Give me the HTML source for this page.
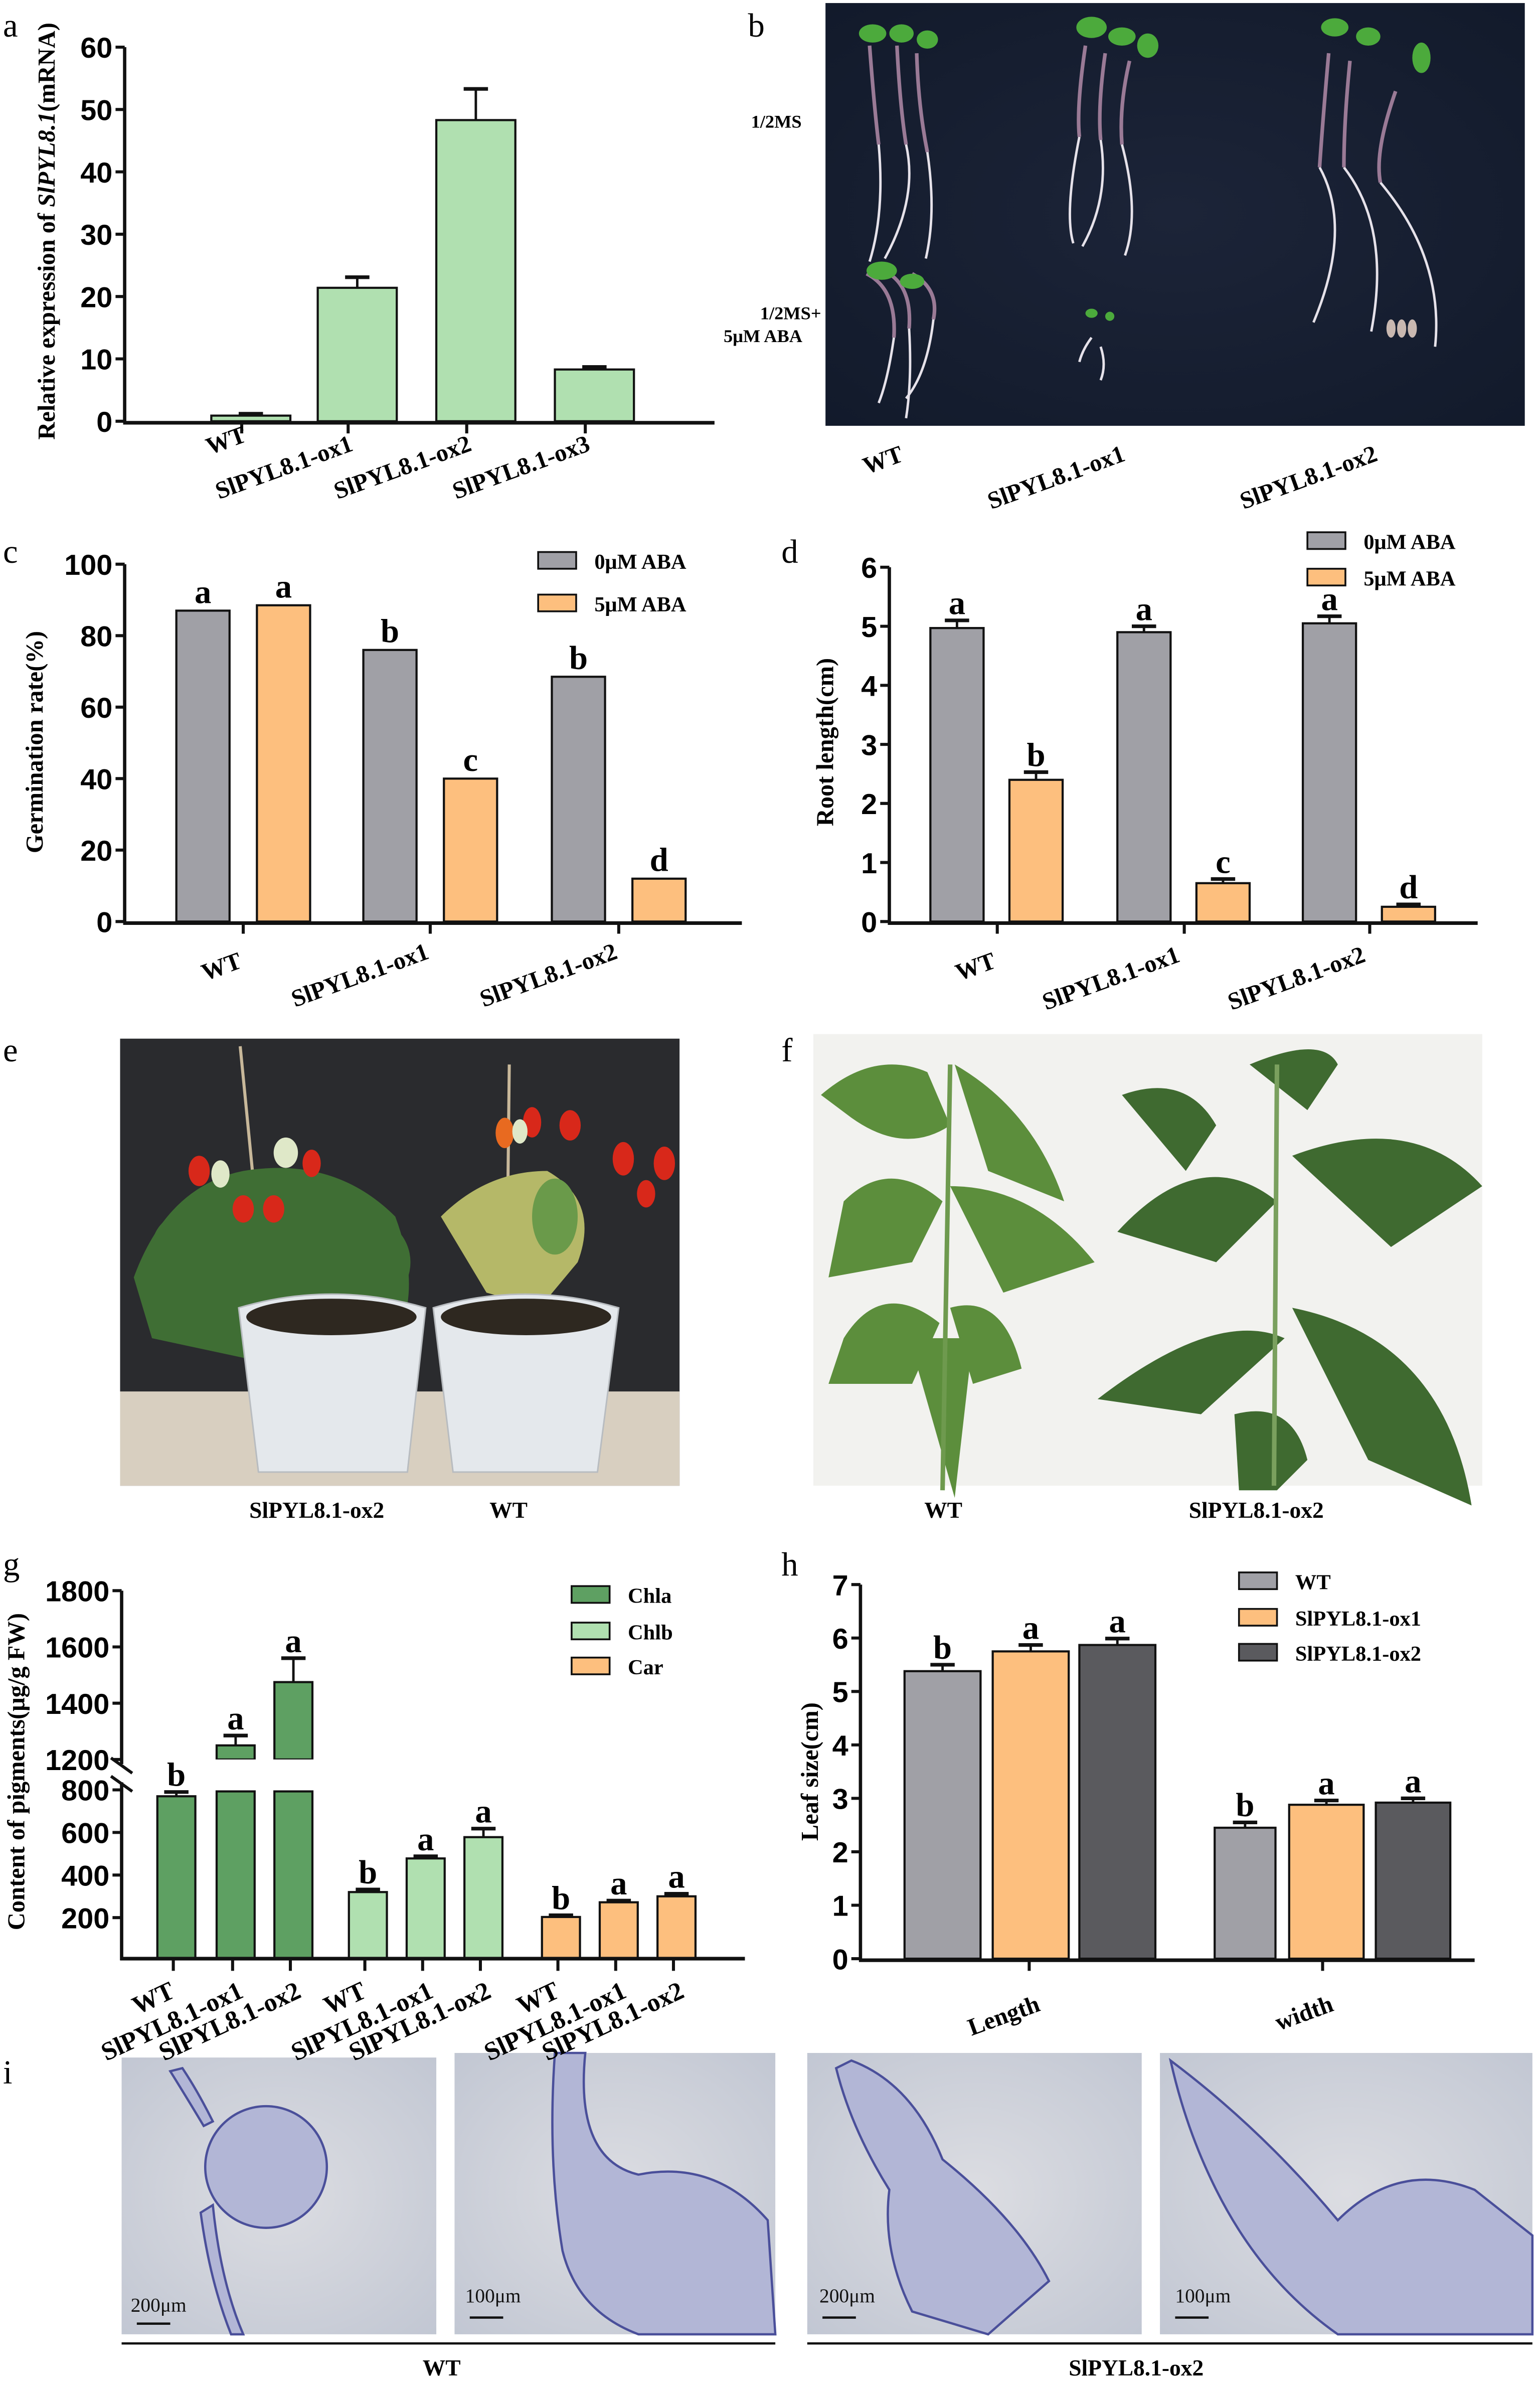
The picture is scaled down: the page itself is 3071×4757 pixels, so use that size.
<!DOCTYPE html>
<html><head><meta charset="utf-8"><style>
html,body{margin:0;padding:0;background:#fff;width:3071px;height:4757px;overflow:hidden}
svg{display:block}
.tk{font-family:"Liberation Sans Narrow","Liberation Sans",sans-serif;font-weight:bold;font-size:19px}
.sr{font-family:"Liberation Serif",serif;font-weight:bold}
.pl{font-family:"Liberation Serif",serif;font-size:22px}
</style></head><body>
<svg id="fig" width="3071" height="4757" viewBox="0 0 1013 1569" preserveAspectRatio="none" xmlns="http://www.w3.org/2000/svg">
<defs>
<radialGradient id="gb" cx="0.5" cy="0.5" r="0.7"><stop offset="0" stop-color="#1c2438"/><stop offset="1" stop-color="#121a2b"/></radialGradient>
<radialGradient id="gi" cx="0.5" cy="0.5" r="0.7"><stop offset="0" stop-color="#dcdde2"/><stop offset="1" stop-color="#c2c7d3"/></radialGradient>
</defs>

<g class="pl">
<text x="2" y="24">a</text>
<text x="492" y="24">b</text>
<text x="2" y="370">c</text>
<text x="514" y="370">d</text>
<text x="2" y="698">e</text>
<text x="514" y="698">f</text>
<text x="2" y="1036">g</text>
<text x="514" y="1036">h</text>
<text x="2" y="1370">i</text>
</g>

<!-- panel b photo -->
<g>
<rect x="543" y="2" width="460" height="278" fill="url(#gb)"/>
<g fill="none" stroke="#e6e2ea" stroke-width="1.6">
<path d="M578 95 Q582 140 572 172 M596 95 Q604 130 582 170 M610 100 Q616 140 609 170"/>
<path d="M710 90 Q700 140 706 160 M724 92 Q730 130 712 162 M738 95 Q750 140 740 168"/>
<path d="M868 110 Q890 150 864 212 M884 110 Q915 150 902 218 M908 120 Q950 170 944 228"/>
<path d="M588 222 Q584 250 578 265 M598 216 Q600 250 596 275 M614 210 Q610 245 596 262"/>
<path d="M718 222 Q712 230 710 238 M724 228 Q728 240 724 250"/>
</g>
<g fill="none" stroke="#9a7a96" stroke-width="2.4">
<path d="M572 30 Q575 70 578 95 M590 30 Q592 70 596 95 M603 35 Q604 70 610 100"/>
<path d="M714 30 Q708 70 710 90 M727 35 Q722 70 724 92 M743 40 Q736 70 738 95"/>
<path d="M874 35 Q870 80 868 110 M888 40 Q884 80 884 110 M918 60 Q904 100 908 120"/>
<path d="M570 180 Q590 190 588 222 M585 180 Q600 190 598 216 M600 180 Q618 190 614 210"/>
</g>
<g fill="#4caa3c">
<ellipse cx="574" cy="22" rx="9" ry="6"/><ellipse cx="593" cy="22" rx="8" ry="6"/><ellipse cx="610" cy="26" rx="7" ry="6"/>
<ellipse cx="718" cy="18" rx="10" ry="7"/><ellipse cx="738" cy="24" rx="9" ry="6"/><ellipse cx="755" cy="30" rx="7" ry="8"/>
<ellipse cx="878" cy="18" rx="9" ry="6"/><ellipse cx="900" cy="24" rx="8" ry="6"/><ellipse cx="935" cy="38" rx="6" ry="10"/>
<ellipse cx="580" cy="178" rx="10" ry="6"/><ellipse cx="600" cy="185" rx="8" ry="5"/>
<ellipse cx="718" cy="206" rx="4" ry="3"/><ellipse cx="730" cy="208" rx="3" ry="3"/>
</g>
<g fill="#c9b8b0"><ellipse cx="915" cy="216" rx="3" ry="6"/><ellipse cx="922" cy="216" rx="3" ry="6"/><ellipse cx="929" cy="216" rx="3" ry="6"/></g>
</g>
<g class="sr" font-size="12">
<text x="494" y="84">1/2MS</text>
<text x="500" y="210">1/2MS+</text>
<text x="476" y="225">5μM ABA</text>
</g>
<g class="sr" font-size="16">
<text transform="translate(570,312) rotate(-20)">WT</text>
<text transform="translate(652,335) rotate(-20)">SlPYL8.1-ox1</text>
<text transform="translate(818,335) rotate(-20)">SlPYL8.1-ox2</text>
</g>

<!-- panel e photo -->
<g>
<rect x="79" y="683" width="368" height="294" fill="#2a2b2e"/>
<rect x="79" y="915" width="368" height="62" fill="#d8cfc0"/>
<line x1="158" y1="688" x2="168" y2="790" stroke="#c8b89a" stroke-width="2"/>
<line x1="335" y1="700" x2="334" y2="790" stroke="#c8b89a" stroke-width="2"/>
<g fill="#3f6e34">
<path d="M88 840 Q110 780 160 770 Q220 760 260 800 Q275 840 265 870 L230 900 L170 895 L100 880 Z"/>
<ellipse cx="130" cy="820" rx="30" ry="25"/><ellipse cx="240" cy="830" rx="30" ry="30"/>
</g>
<g fill="#b5b868"><path d="M290 800 Q320 770 360 770 Q395 790 380 830 L355 860 L320 850 Z"/></g>
<g fill="#6a9a4a"><ellipse cx="365" cy="800" rx="15" ry="25"/></g>
<g fill="#d8281a">
<ellipse cx="131" cy="770" rx="7" ry="10"/><ellipse cx="160" cy="795" rx="7" ry="9"/><ellipse cx="180" cy="795" rx="7" ry="9"/><ellipse cx="205" cy="765" rx="6" ry="9"/>
<ellipse cx="350" cy="738" rx="6" ry="10"/><ellipse cx="375" cy="740" rx="7" ry="10"/><ellipse cx="410" cy="762" rx="7" ry="11"/><ellipse cx="437" cy="765" rx="7" ry="11"/><ellipse cx="425" cy="785" rx="6" ry="9"/>
</g>
<g fill="#e86a20"><ellipse cx="332" cy="745" rx="6" ry="10"/></g>
<g fill="#dfe8c8"><ellipse cx="145" cy="772" rx="6" ry="9"/><ellipse cx="188" cy="758" rx="8" ry="10"/><ellipse cx="342" cy="744" rx="5" ry="8"/></g>
<g fill="#e4e8ec" stroke="#b8bcc0" stroke-width="1">
<path d="M157 860 Q218 842 280 860 L268 968 L170 968 Z"/>
<path d="M285 860 Q345 842 407 860 L393 968 L298 968 Z"/>
</g>
<ellipse cx="218" cy="866" rx="56" ry="12" fill="#2e2820"/><ellipse cx="346" cy="866" rx="56" ry="12" fill="#2e2820"/>
</g>
<g class="sr" font-size="15">
<text x="164" y="998">SlPYL8.1-ox2</text>
<text x="322" y="998">WT</text>
</g>

<!-- panel f photo -->
<g>
<rect x="535" y="680" width="440" height="297" fill="#f2f2ef"/>
<g fill="#5c8e3c">
<path d="M540 720 Q575 690 610 705 L625 740 Q595 760 560 735 Z"/>
<path d="M628 700 Q680 730 700 790 L650 770 Z"/>
<path d="M555 790 Q585 760 620 790 L600 830 L545 840 Z"/>
<path d="M625 780 Q680 780 720 830 L660 850 Z"/>
<path d="M555 880 Q580 840 618 870 L600 910 L545 910 Z"/>
<path d="M625 860 Q660 850 672 900 L640 910 Z"/>
<path d="M598 880 L640 880 L628 985 Z"/>
</g>
<line x1="625" y1="700" x2="620" y2="980" stroke="#6e9a4e" stroke-width="3"/>
<g fill="#3f6a30">
<path d="M738 720 Q780 705 800 740 L780 770 Z"/><path d="M822 700 Q870 680 880 700 L860 730 Z"/>
<path d="M735 810 Q790 750 840 790 L800 830 Z"/><path d="M850 760 Q930 730 975 780 L915 820 Z"/>
<path d="M722 920 Q800 860 845 880 L790 930 Z"/><path d="M850 860 Q950 880 968 990 L900 960 Z"/>
<path d="M812 930 Q850 920 860 960 L840 980 L815 980 Z"/>
</g>
<line x1="840" y1="700" x2="838" y2="977" stroke="#7aa05e" stroke-width="3"/>
</g>
<g class="sr" font-size="15">
<text x="608" y="998">WT</text>
<text x="782" y="998">SlPYL8.1-ox2</text>
</g>

<!-- panel i photos -->
<g>
<rect x="80" y="1353" width="207" height="182" fill="url(#gi)"/>
<rect x="299" y="1350" width="211" height="185" fill="url(#gi)"/>
<rect x="531" y="1350" width="220" height="185" fill="url(#gi)"/>
<rect x="763" y="1350" width="245" height="185" fill="url(#gi)"/>
<g fill="#b2b6d6" stroke="#4a4f9a" stroke-width="1.5">
<circle cx="175" cy="1425" r="40"/><path d="M140 1450 Q145 1500 160 1535 L152 1535 Q138 1500 132 1455 Z"/><path d="M120 1360 Q130 1375 140 1395 L134 1398 Q122 1378 112 1362 Z"/>
<path d="M365 1350 L385 1350 Q378 1420 420 1430 Q470 1420 505 1460 L510 1535 L420 1535 Q380 1520 370 1480 Q360 1420 365 1350 Z"/>
<path d="M560 1355 Q600 1370 620 1420 Q670 1460 690 1500 L650 1535 L600 1520 Q580 1480 585 1440 Q560 1400 550 1360 Z"/>
<path d="M770 1355 Q830 1400 880 1460 Q920 1420 970 1440 L1008 1470 L1008 1535 L880 1535 Q830 1500 800 1440 Q780 1400 770 1355 Z"/>
</g>
<g stroke="#111" stroke-width="1.5"><line x1="90" y1="1528" x2="112" y2="1528"/><line x1="309" y1="1524" x2="331" y2="1524"/><line x1="541" y1="1524" x2="563" y2="1524"/><line x1="773" y1="1524" x2="795" y2="1524"/></g>
</g>
<g font-family="Liberation Serif,serif" font-size="13" fill="#111">
<text x="86" y="1520">200μm</text>
<text x="306" y="1514">100μm</text>
<text x="539" y="1514">200μm</text>
<text x="773" y="1514">100μm</text>
</g>
<line x1="80" y1="1541" x2="510" y2="1541" stroke="#111" stroke-width="1.5"/>
<line x1="531" y1="1541" x2="1008" y2="1541" stroke="#111" stroke-width="1.5"/>
<g class="sr" font-size="15">
<text x="278" y="1562">WT</text>
<text x="703" y="1562">SlPYL8.1-ox2</text>
</g>
<g id="charts"></g>
</svg>
<script>
// Panel a data
const aCats = ["WT","SlPYL8.1-ox1","SlPYL8.1-ox2","SlPYL8.1-ox3"];
const aVals = [0.9, 21.4, 48.3, 8.3];
const aErr = [0.3, 1.7, 5.0, 0.4];
const aTicks = [0,10,20,30,40,50,60];
// Panel c data
const cCats = ["WT","SlPYL8.1-ox1","SlPYL8.1-ox2"];
const cVals0 = [87, 76, 68.5];
const cVals5 = [88.5, 40, 12];
const cLet0 = ["a","b","b"];
const cLet5 = ["a","c","d"];
const cTicks = [0,20,40,60,80,100];
// Panel d data
const dCats = ["WT","SlPYL8.1-ox1","SlPYL8.1-ox2"];
const dVals0 = [4.97, 4.9, 5.05];
const dErr0 = [0.13, 0.1, 0.12];
const dVals5 = [2.4, 0.65, 0.25];
const dErr5 = [0.13, 0.07, 0.04];
const dLet0 = ["a","a","a"];
const dLet5 = ["b","c","d"];
const dTicks = [0,1,2,3,4,5,6];
// Panel g data
const gGroups = ["Chla","Chlb","Car"];
const gCats = ["WT","SlPYL8.1-ox1","SlPYL8.1-ox2"];
const gChla = [770, 1250, 1475];
const gChlaErr = [20, 35, 85];
const gChlb = [320, 478, 578];
const gChlbErr = [12, 10, 40];
const gCar = [203, 272, 300];
const gCarErr = [8, 8, 12];
const gLetters = [["b","a","a"],["b","a","a"],["b","a","a"]];
const gTicksLow = [200,400,600,800];
const gTicksHigh = [1200,1400,1600,1800];
// Panel h data
const hGroups = ["Length","width"];
const hSeries = ["WT","SlPYL8.1-ox1","SlPYL8.1-ox2"];
const hWT = [5.38, 2.45];
const hOx1 = [5.75, 2.88];
const hOx2 = [5.87, 2.92];
const hErr = [[0.12,0.1],[0.12,0.08],[0.12,0.08]];
const hLetters = [["b","a","a"],["b","a","a"]];
const hTicks = [0,1,2,3,4,5,6,7];

const NS="http://www.w3.org/2000/svg";
const root=document.getElementById('charts');
function mk(tag,attrs,parent,text){const e=document.createElementNS(NS,tag);for(const k in attrs)e.setAttribute(k,attrs[k]);if(text!==undefined)e.textContent=text;(parent||root).appendChild(e);return e;}
function scale(d0,d1,r0,r1){return v=>r0+(v-d0)*(r1-r0)/(d1-d0);}
function bar(g,x,w,y0,y1,fill,name){const r=mk('rect',{x:x,y:Math.min(y0,y1),width:w,height:Math.abs(y0-y1),fill:fill,stroke:'#111','stroke-width':1.4},g);return r;}
function err(g,cx,ytop,yerr){mk('line',{x1:cx,y1:ytop,x2:cx,y2:yerr,stroke:'#111','stroke-width':1.6},g);mk('line',{x1:cx-8,y1:yerr,x2:cx+8,y2:yerr,stroke:'#111','stroke-width':2.4},g);}
function letter(g,cx,y,t){const e=mk('text',{x:cx,y:y,'text-anchor':'middle','class':'sr','font-size':22},g,t);}
function yaxis(g,x,ticks,ys,top,bot){mk('line',{x1:x,y1:top,x2:x,y2:bot,stroke:'#111','stroke-width':2.2},g);ticks.forEach(t=>{const y=ys(t);mk('line',{x1:x-6,y1:y,x2:x,y2:y,stroke:'#111','stroke-width':2},g);const e=mk('text',{x:x-8,y:y+7,'text-anchor':'end','class':'tk'},g,t);});}
function xlab(g,x,y,t,fs,rot){const e=mk('text',{transform:`translate(${x},${y}) rotate(${rot||-20})`,'text-anchor':'end','class':'sr','font-size':fs||16},g,t);}
function ytitle(g,x,y,parts){const e=mk('text',{transform:`translate(${x},${y}) rotate(-90)`,'text-anchor':'middle','class':'sr','font-size':16},g);parts.forEach(p=>{mk('tspan',p[1]?{'font-style':'italic'}:{},e,p[0]);});}
function legend(g,x,y,fill,t){const r=mk('rect',{x:x,y:y-6,width:25,height:11,fill:fill,stroke:'#111','stroke-width':1.2},g);const e=mk('text',{x:x+37,y:y+5,'class':'sr','font-size':14},g,t);}
const GREY='#a0a0a6',ORANGE='#fdbf7e',LG='#b0e0b0',DG='#5ea062',DARK='#5a5a5e';

// ---- Panel a
(function(){const g=mk('g',{});
const ys=scale(0,60,277,31);const xs=[165,235,313,391];const w=52;
aVals.forEach((v,i)=>{err(g,xs[i],ys(v),ys(v+aErr[i]));bar(g,xs[i]-w/2,w,ys(0),ys(v),LG,'bar-'+aCats[i]);});
yaxis(g,82,aTicks,ys,31,278);mk('line',{x1:81,y1:278,x2:470,y2:278,stroke:'#111','stroke-width':2.4},g);
aCats.forEach((c,i)=>{mk('line',{x1:xs[i]-6,y1:278,x2:xs[i]-6,y2:285,stroke:'#111','stroke-width':2},g);xlab(g,xs[i]-2,i?296:290,c);});
ytitle(g,36,152,[["Relative expression of "],["SlPYL8.1",1],["(mRNA)"]]);})();

// ---- Panel c
(function(){const g=mk('g',{});
const ys=scale(0,100,606,371);const xg=[116,239,363];const w=35;
cCats.forEach((c,i)=>{const x0=xg[i],x1=xg[i]+53;bar(g,x0,w,ys(0),ys(cVals0[i]),GREY,'bar-0uM-'+c);bar(g,x1,w,ys(0),ys(cVals5[i]),ORANGE,'bar-5uM-'+c);letter(g,x0+w/2,ys(cVals0[i])-5,cLet0[i]);letter(g,x1+w/2,ys(cVals5[i])-5,cLet5[i]);
mk('line',{x1:x0+44,y1:607,x2:x0+44,y2:614,stroke:'#111','stroke-width':2},g);xlab(g,x0+44,i?630:636,c);});
yaxis(g,82,cTicks,ys,371,607);mk('line',{x1:81,y1:607,x2:488,y2:607,stroke:'#111','stroke-width':2.4},g);
legend(g,354,369,GREY,'0μM ABA');legend(g,354,397,ORANGE,'5μM ABA');
ytitle(g,28,488,[["Germination rate(%)"]]);})();

// ---- Panel d
(function(){const g=mk('g',{});
const ys=scale(0,6,606,373);const xg=[612,735,857];const w=35;
dCats.forEach((c,i)=>{const x0=xg[i],x1=xg[i]+52;err(g,x0+w/2,ys(dVals0[i]),ys(dVals0[i]+dErr0[i]));err(g,x1+w/2,ys(dVals5[i]),ys(dVals5[i]+dErr5[i]));
bar(g,x0,w,ys(0),ys(dVals0[i]),GREY,'bar-0uM-'+c);bar(g,x1,w,ys(0),ys(dVals5[i]),ORANGE,'bar-5uM-'+c);
letter(g,x0+w/2,ys(dVals0[i]+dErr0[i])-4,dLet0[i]);letter(g,x1+w/2,ys(dVals5[i]+dErr5[i])-4,dLet5[i]);
mk('line',{x1:x0+44,y1:607,x2:x0+44,y2:614,stroke:'#111','stroke-width':2},g);xlab(g,x0+44+(i?-2:0),i?632:636,c);});
yaxis(g,585,dTicks,ys,373,607);mk('line',{x1:584,y1:607,x2:972,y2:607,stroke:'#111','stroke-width':2.4},g);
legend(g,860,356,GREY,'0μM ABA');legend(g,860,380,ORANGE,'5μM ABA');
ytitle(g,548,488,[["Root length(cm)"]]);})();

// ---- Panel g
(function(){const g=mk('g',{});
const yl=scale(200,800,1261,1177);const yh=scale(1200,1800,1157,1046);
function yv(v){return v<=1000?yl(v):yh(v);}
const series=[gChla,gChlb,gCar],errs=[gChlaErr,gChlbErr,gCarErr],cols=[DG,LG,ORANGE];
const xc=[[116,155,193],[242,280,318],[369,407,445]];const w=25;const BASE=1288;
const lOff=[0,6,6];
series.forEach((vals,si)=>{vals.forEach((v,i)=>{const cx=xc[si][i];err(g,cx,yv(v),yv(v+errs[si][i]));
if(v>1000){bar(g,cx-w/2,w,BASE,yl(800)+1,cols[si],'bar-'+gGroups[si]+'-'+gCats[i]);bar(g,cx-w/2,w,yh(1200),yv(v),cols[si],'bar-'+gGroups[si]+'-'+gCats[i]+'-upper');mk('rect',{x:cx-w/2-2,y:yh(1200),width:w+4,height:yl(800)-yh(1200),fill:'#fff'},g);}
else bar(g,cx-w/2,w,BASE,yv(v),cols[si],'bar-'+gGroups[si]+'-'+gCats[i]);
letter(g,cx,yv(v+errs[si][i])-4,gLetters[si][i]);
mk('line',{x1:cx-2,y1:BASE,x2:cx-2,y2:BASE+8,stroke:'#111','stroke-width':2},g);
xlab(g,cx+lOff[i],1313,gCats[i],17,-25);});});
mk('line',{x1:80,y1:1046,x2:80,y2:1160,stroke:'#111','stroke-width':2.2},g);mk('line',{x1:80,y1:1172,x2:80,y2:1289,stroke:'#111','stroke-width':2.2},g);
mk('line',{x1:73,y1:1156,x2:87,y2:1166,stroke:'#111','stroke-width':2},g);mk('line',{x1:73,y1:1168,x2:87,y2:1178,stroke:'#111','stroke-width':2},g);
[[gTicksLow,yl],[gTicksHigh,yh]].forEach(([tk,s])=>tk.forEach(t=>{const y=s(t);mk('line',{x1:74,y1:y,x2:80,y2:y,stroke:'#111','stroke-width':2},g);const e=mk('text',{x:72,y:y+7,'text-anchor':'end','class':'tk'},g,t);}));
mk('line',{x1:79,y1:1288,x2:490,y2:1288,stroke:'#111','stroke-width':2.4},g);
legend(g,376,1049,DG,'Chla');legend(g,376,1073,LG,'Chlb');legend(g,376,1096,ORANGE,'Car');
ytitle(g,16,1165,[["Content of pigments(μg/g FW)"]]);})();

// ---- Panel h
(function(){const g=mk('g',{});
const ys=scale(0,7,1288,1042);const series=[hWT,hOx1,hOx2],cols=[GREY,ORANGE,DARK];
const gx=[[595,653,710],[799,848,905]];const w=50;
hGroups.forEach((grp,gi)=>{series.forEach((vals,si)=>{const x=gx[gi][si];const v=vals[gi];const ww=gi?40+9*(si>0):w;
err(g,x+ww/2,ys(v),ys(v+hErr[si][gi]));bar(g,x,ww,ys(0),ys(v),cols[si],'bar-'+hSeries[si]+'-'+grp);letter(g,x+ww/2,ys(v+hErr[si][gi])-4,hLetters[gi][si]);});
const cx=gi?870:677;mk('line',{x1:cx,y1:1289,x2:cx,y2:1296,stroke:'#111','stroke-width':2},g);xlab(g,cx+8,1322,grp,16);});
yaxis(g,566,hTicks,ys,1042,1289);mk('line',{x1:565,y1:1289,x2:970,y2:1289,stroke:'#111','stroke-width':2.4},g);
legend(g,815,1040,GREY,'WT');legend(g,815,1064,ORANGE,'SlPYL8.1-ox1');legend(g,815,1087,DARK,'SlPYL8.1-ox2');
ytitle(g,538,1165,[["Leaf size(cm)"]]);})();
</script>
</body></html>
